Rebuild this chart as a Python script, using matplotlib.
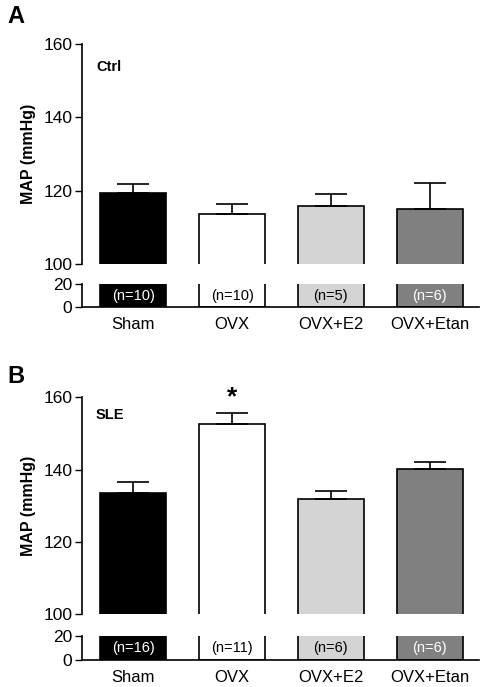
import numpy as np
import matplotlib
matplotlib.use("Agg")
import matplotlib.pyplot as plt

plt.rcParams['font.family'] = ['Liberation Sans', 'DejaVu Sans']

# Data
groups = ["Sham", "OVX", "OVX+E2", "OVX+Etan"]
colors = ["#000000", "#ffffff", "#d4d4d4", "#808080"]
ntext_colors = ["white", "black", "black", "white"]

ctrl_mean = [119.4, 113.6, 115.7, 115.0]
ctrl_sem = [2.4, 2.7, 3.5, 7.2]
ctrl_n = [10, 10, 5, 6]

sle_mean = [133.6, 152.6, 131.9, 140.1]
sle_sem = [3.1, 3.1, 2.1, 2.1]
sle_n = [16, 11, 6, 6]

fig = plt.figure(figsize=(4.93, 6.87), dpi=100)

x = np.arange(len(groups))
left, width = 0.1663, 0.8053


def panel(upper_box, lower_box, means, sems, ns, tag, title, title_y, star=None):
    ax_up = fig.add_axes([left, upper_box[0], width, upper_box[1]])
    ax_lo = fig.add_axes([left, lower_box[0], width, lower_box[1]])
    for ax in (ax_up, ax_lo):
        ax.bar(x, means, width=0.67, color=colors, edgecolor="black", linewidth=1.2)
        ax.set_xlim(-0.52, 3.5)
        for s in ("top", "right"):
            ax.spines[s].set_visible(False)
        ax.tick_params(axis="y", direction="out", length=5, width=1, labelsize=12.5, pad=2)
        ax.spines["left"].set_linewidth(1.2)
    ax_up.errorbar(x, means, yerr=[np.zeros(len(means)), sems], fmt="none",
                   ecolor="black", elinewidth=1.2, capsize=11.5, capthick=1.2)
    ax_up.set_ylim(100, 160)
    ax_up.set_yticks([100, 120, 140, 160])
    ax_up.spines["bottom"].set_visible(False)
    ax_up.set_xticks([])
    ax_up.set_ylabel("MAP (mmHg)", fontsize=11.5, fontweight="bold", labelpad=5)
    ax_up.text(0.035, title_y, title, transform=ax_up.transAxes, fontsize=10.5,
               fontweight="bold", va="center")
    if star is not None:
        ax_up.text(star, means[star] + sems[star] + 1.0, "*", ha="center",
                   va="bottom", fontsize=19, fontweight="bold")

    ax_lo.set_ylim(0, 20)
    ax_lo.set_yticks([0, 20])
    ax_lo.spines["bottom"].set_linewidth(1.2)
    ax_lo.set_xticks(x)
    ax_lo.set_xticklabels(groups, fontsize=12)
    ax_lo.tick_params(axis="x", length=0, pad=7)
    for xi, n, c in zip(x, ns, ntext_colors):
        ax_lo.text(xi, 10, f"(n={n})", ha="center", va="center", fontsize=10.5, color=c)

    fig.text(0.015, upper_box[0] + upper_box[1] + tag[1], tag[0], fontsize=17,
             fontweight="bold", va="center")


panel((0.6157, 0.3203), (0.5531, 0.0335), ctrl_mean, ctrl_sem, ctrl_n,
      ("A", 0.04), "Ctrl", 0.895)
panel((0.1058, 0.3159), (0.0393, 0.0354), sle_mean, sle_sem, sle_n,
      ("B", 0.03), "SLE", 0.92, star=1)

fig.savefig("out.png", dpi=100)
